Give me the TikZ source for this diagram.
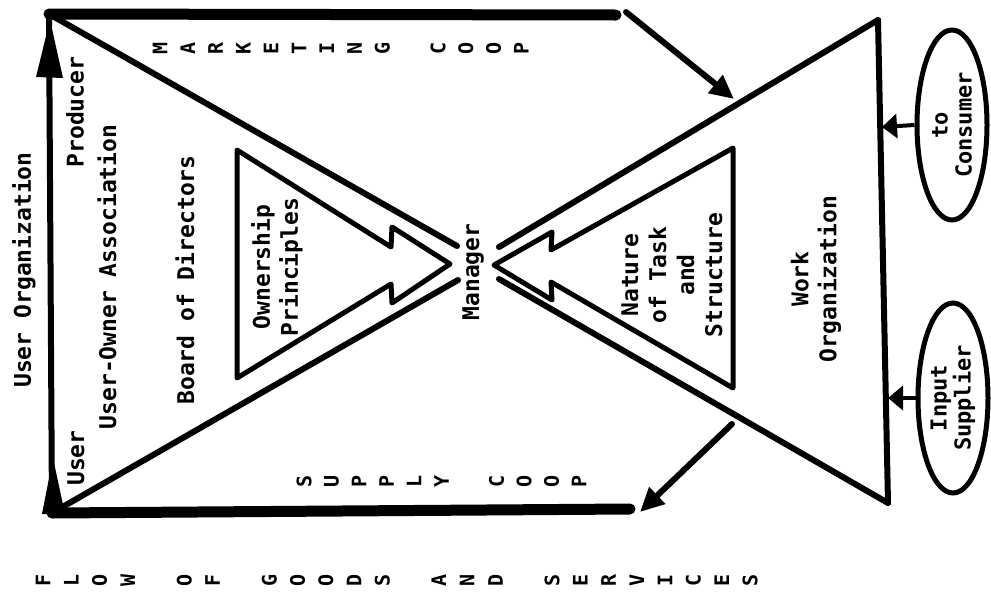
\documentclass[tikz,border=0pt]{standalone}
\usepackage{fontspec}
\setmonofont{DejaVu Sans Mono}
\usetikzlibrary{arrows.meta,shapes.geometric}
\begin{document}
\begin{tikzpicture}[x=1pt,y=-1pt,
  txt/.style={rotate=90, font=\ttfamily\bfseries\fontsize{23}{28}\selectfont, align=center, inner sep=0pt},
  spc/.style={rotate=90, font=\ttfamily\bfseries\fontsize{20}{20}\selectfont, inner sep=0pt},
  bar/.style={line width=11pt, line cap=round},
  side/.style={line width=6pt, line cap=round},
  innertri/.style={line width=5pt, line join=round},
  bigarrow/.style={line width=6pt, line cap=round, -{Triangle[length=24pt,width=22pt]}},
  smallarrow/.style={line width=4pt, -{Triangle[length=15pt,width=24pt]}},
  oval/.style={draw, line width=5pt, ellipse, rotate=90, minimum width=190pt, minimum height=70pt, inner sep=0pt, align=center, font=\ttfamily\bfseries\fontsize{22}{24}\selectfont},
]
\useasboundingbox (0,0) rectangle (991,595);
% corner coordinates
\coordinate (TL) at (49,14);
\coordinate (BL) at (52,513);
\coordinate (TR) at (878,20);
\coordinate (BR) at (888,503);
\coordinate (Lu) at (457,246);
\coordinate (Ll) at (458,280);
\coordinate (Ru) at (499,247);
\coordinate (Rl) at (499,279);
\coordinate (topEnd) at (616,15);
\coordinate (botEnd) at (630,509);
\coordinate (mkS) at (626,12);
\coordinate (mkE) at (734,99);
\coordinate (spS) at (732,424);
\coordinate (spE) at (640,512);

% thick flow bars
\draw[bar] (TL) -- (topEnd);
\draw[bar] (BL) -- (botEnd);
% user organization vertical
\draw[side] (TL) -- (BL);
\fill (50,20) -- (36,77) -- (63,78) -- cycle;
\fill (53,458) -- (42,514) -- (65,514) -- cycle;

% big triangles
\draw[side] (TL) -- (Lu);
\draw[side] (BL) -- (Ll);
\draw[side] (TR) -- (Ru);
\draw[side] (BR) -- (Rl);
\draw[side] (TR) -- (BR);

% inner triangles with lightning tips
\draw[innertri] (237,150) -- (391,247) -- (392,227) -- (450,264) -- (392,303) -- (391,284) -- (237,378) -- cycle;
\draw[innertri] (733,148) -- (551,250) -- (552,232) -- (494,265) -- (552,300) -- (551,282) -- (733,388) -- cycle;

% diagonal flow arrows
\draw[bigarrow] (mkS) -- (mkE);
\draw[bigarrow] (spS) -- (spE);

% ellipses
\node[oval] (cons) at (952,125) {to\\Consumer};
\node[oval] (inp) at (953,398) {Input\\Supplier};
\draw[smallarrow] (cons.north) -- (882,127);
\draw[smallarrow] (inp.north) -- (888,398);

% labels
\node[txt] (uorg) at (24,270) {User Organization};
\node[txt] (prod) at (75,112) {Producer};
\node[txt] (uoa) at (107,277) {User-Owner Association};
\node[txt] (user) at (76,458) {User};
\node[txt] (bod) at (185,280) {Board of Directors};
\node[txt] (own) at (277,267) {Ownership\\Principles};
\node[txt] (mgr) at (473,272) {Manager};
\node[txt] (nat) at (672,275) {Nature\\of Task\\and\\Structure};
\node[txt] (work) at (816,279) {Work\\Organization};

% spaced capitals
\foreach \ch [count=\i from 0] in {M,A,R,K,E,T,I,N,G}
  \node[spc] (mk\i) at ({160+\i*27.8},48) {\ch};
\foreach \ch [count=\i from 10] in {C,O,O,P}
  \node[spc] (mc\i) at ({160+\i*27.8},48) {\ch};
\foreach \ch [count=\i from 0] in {S,U,P,P,L,Y}
  \node[spc] (sp\i) at ({304+\i*27.5},481) {\ch};
\foreach \ch [count=\i from 7] in {C,O,O,P}
  \node[spc] (sc\i) at ({304+\i*27.5},481) {\ch};
\foreach \k/\ch in {0/F,1/L,2/O,3/W,5/O,6/F,8/G,9/O,10/O,11/D,12/S,14/A,15/N,16/D,18/S,19/E,20/R,21/V,22/I,23/C,24/E,25/S}
  \node[spc] (fl\k) at ({43+\k*28.28},580) {\ch};
\end{tikzpicture}
\end{document}
